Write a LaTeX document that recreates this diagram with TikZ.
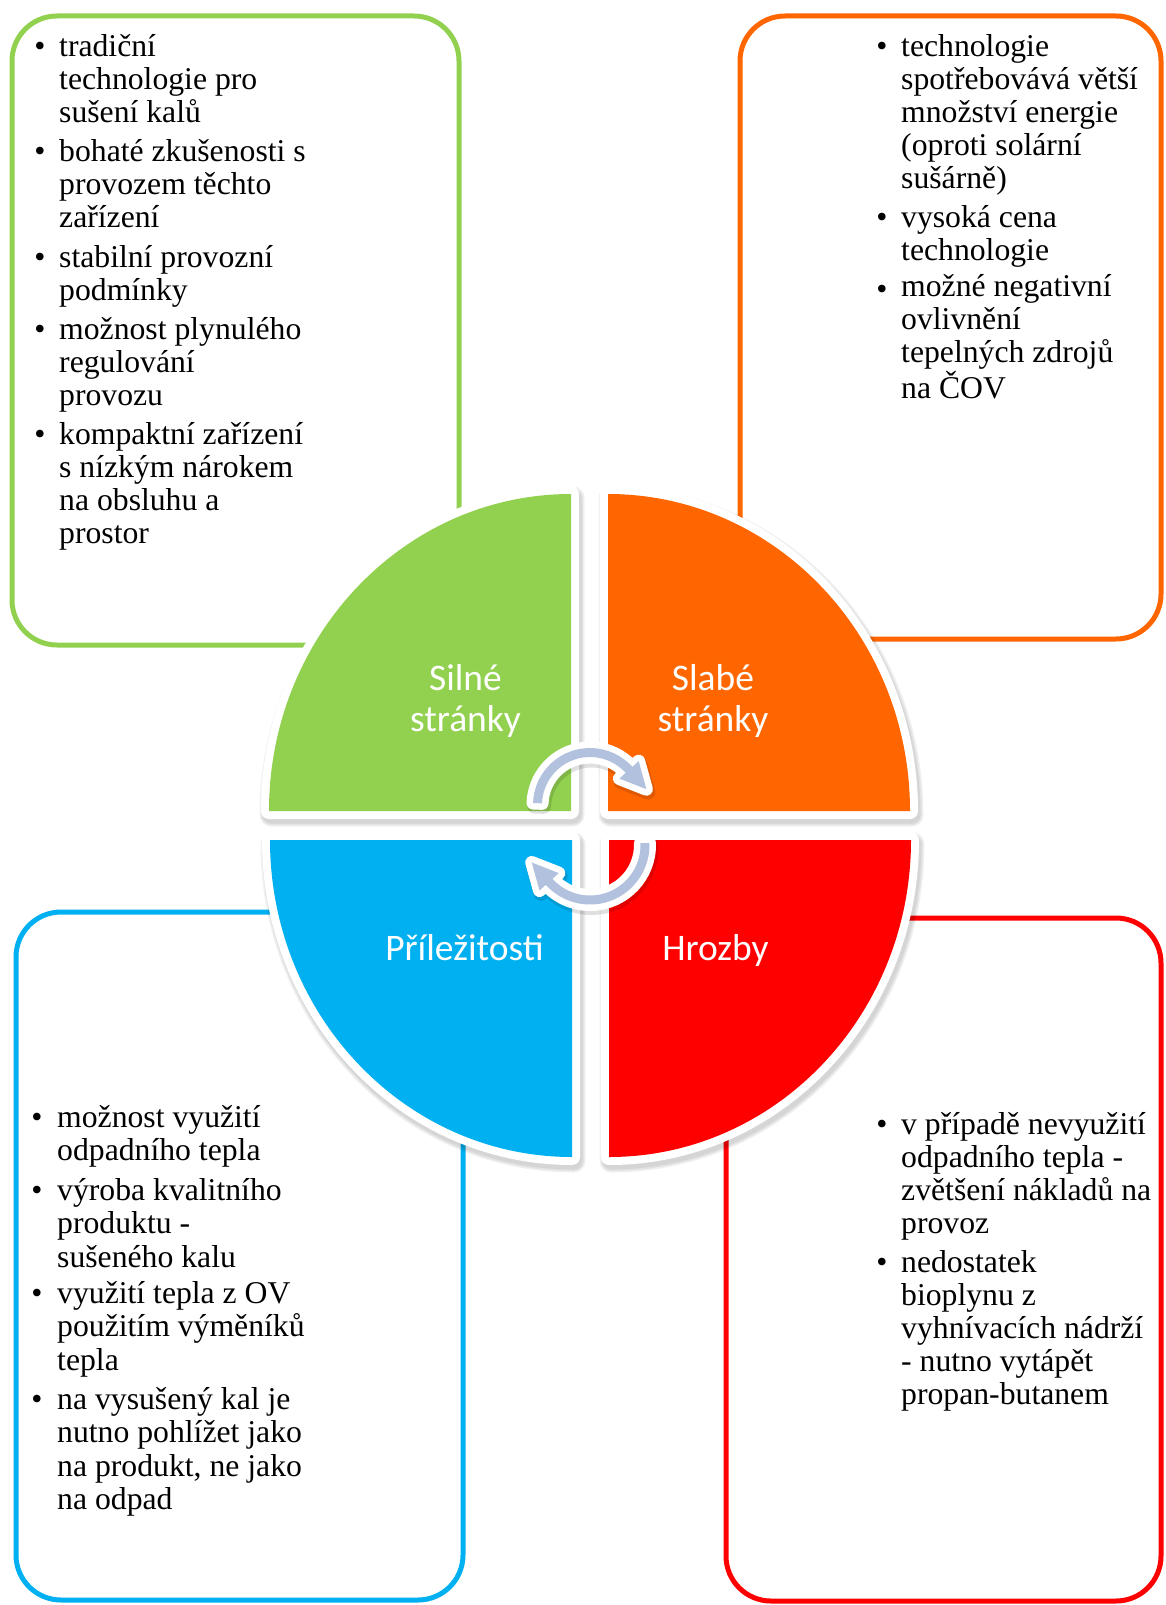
\documentclass[tikz,border=0pt]{standalone}
\usepackage{fontspec}
\setmainfont{Liberation Serif}
\newfontfamily\quadfont{Carlito}
\usetikzlibrary{calc}

\definecolor{swGreen}{RGB}{146,208,80}
\definecolor{swOrange}{RGB}{255,102,0}
\definecolor{swBlue}{RGB}{0,176,240}
\definecolor{swRed}{RGB}{255,0,0}
\definecolor{cycleBlue}{RGB}{178,193,222}

\tikzset{
  listbox/.style={rounded corners=45pt, line width=5pt},
  bulletmark/.style={anchor=base, inner sep=0pt, font=\fontsize{31.7}{33}\selectfont},
  itemtext/.style={anchor=base west, inner sep=0pt, align=left, font=\fontsize{31.7}{33}\selectfont},
  itemtextB/.style={itemtext, font=\fontsize{31.7}{33.5}\selectfont},
  quadlabel/.style={anchor=base, inner sep=0pt, align=center, text=white, font=\quadfont\fontsize{37.5}{41}\selectfont},
  cyclearrow/.style={fill=cycleBlue,
    preaction={draw=black, opacity=0.12, line width=15pt, line join=round, transform canvas={shift={(1.5,3)}}},
    preaction={draw=white, fill=white, line width=13pt, line join=round}},
}

% one bullet point: [style] name, bullet x, text x, first baseline y, line count, text
% (a multi-line node sits on the baseline of its last line)
\newcommand\swotitem[7][itemtext]{%
  \pgfmathsetmacro\swotlast{#5+(#6-1)*\swotskip}%
  \node[bulletmark] (#2b) at (#3,#5) {•};
  \node[#1] (#2) at (#4,\swotlast) {#7};}
\def\swotskip{33}

\begin{document}
\begin{tikzpicture}[x=1pt,y=-1pt]
\useasboundingbox (0,0) rectangle (1165,1605);

% list frames
\draw[listbox, draw=swGreen]  (12,16)   rectangle (459,645);
\draw[listbox, draw=swOrange] (740,16)  rectangle (1161,639);
\draw[listbox, draw=swBlue]   (16,912)  rectangle (463,1600);
\draw[listbox, draw=swRed]    (726,918) rectangle (1161,1601);

% strengths
\swotitem{s1}{40}{59}{57}{3}{tradiční\\technologie pro\\sušení kalů}
\swotitem{s2}{40}{59}{162}{3}{bohaté zkušenosti s\\provozem těchto\\zařízení}
\swotitem{s3}{40}{59}{267}{2}{stabilní provozní\\podmínky}
\swotitem{s4}{40}{59}{339}{3}{možnost plynulého\\regulování\\provozu}
\swotitem{s5}{40}{59}{444}{4}{kompaktní zařízení\\s nízkým nárokem\\na obsluhu a\\prostor}

% weaknesses
\swotitem{w1}{882}{901}{57}{5}{technologie\\spotřebovává větší\\množství energie\\(oproti solární\\sušárně)}
\swotitem{w2}{882}{901}{228}{2}{vysoká cena\\technologie}
\swotitem{w3}{882}{901}{299}{4}{možné negativní\\ovlivnění\\tepelných zdrojů\\na ČOV}

% threats
\swotitem{t1}{882}{901}{1134}{4}{v případě nevyužití\\odpadního tepla -\\zvětšení nákladů na\\provoz}
\swotitem{t2}{882}{901}{1272}{5}{nedostatek\\bioplynu z\\vyhnívacích nádrží\\- nutno vytápět\\propan-butanem}

% opportunities
\def\swotskip{33.5}
\swotitem[itemtextB]{o1}{37}{57}{1127}{2}{možnost využití\\odpadního tepla}
\swotitem[itemtextB]{o2}{37}{57}{1200}{3}{výroba kvalitního\\produktu -\\sušeného kalu}
\swotitem[itemtextB]{o3}{37}{57}{1303}{3}{využití tepla z OV\\použitím výměníků\\tepla}
\swotitem[itemtextB]{o4}{37}{57}{1409}{4}{na vysušený kal je\\nutno pohlížet jako\\na produkt, ne jako\\na odpad}

% quarter discs: soft shadow, white rim, colour fill
\foreach \cx/\cy/\s/\col in {571/811/180/swGreen, 608/811/270/swOrange,
                             609/840/0/swRed, 572/840/90/swBlue} {
  \foreach \w in {23,20,17}
    \path[draw=black, fill=black, opacity=0.06, line width=\w pt, line join=round,
          shift={(2,4)}]
      (\cx,\cy) -- ++(\s:302 and 317)
      arc[start angle=\s, delta angle=90, x radius=302, y radius=317] -- cycle;
  \path[draw=white, fill=white, line width=16pt, line join=round]
    (\cx,\cy) -- ++(\s:302 and 317)
    arc[start angle=\s, delta angle=90, x radius=302, y radius=317] -- cycle;
  \path[fill=\col]
    (\cx,\cy) -- ++(\s:302 and 317)
    arc[start angle=\s, delta angle=90, x radius=302, y radius=317] -- cycle;
}

% quadrant titles (two-line titles sit on their second baseline)
\node[quadlabel] (strengths) at (465.5,731) {Silné\\stránky};
\node[quadlabel] (weaknesses) at (713,731) {Slabé\\stránky};
\node[quadlabel] (opportunities) at (464.5,960) {Příležitosti};
\node[quadlabel] (threats) at (715.5,960) {Hrozby};

% circular arrows in the middle
\coordinate (cu) at (590,805);
\coordinate (cl) at (590,845);
\path[cyclearrow]
  ($(cu)+(182:57)$) arc[start angle=182, end angle=318, radius=57]
  -- ($(cu)+(318:65.5)$) -- ($(cu)+(318:52.5)+(48:26)$) -- ($(cu)+(318:39.5)$)
  -- ($(cu)+(318:48)$) arc[start angle=318, end angle=182, radius=48] -- cycle;
\path[cyclearrow]
  ($(cl)+(-2:59.5)$) arc[start angle=-2, end angle=138, radius=59.5]
  -- ($(cl)+(138:68)$) -- ($(cl)+(138:55)+(228:26)$) -- ($(cl)+(138:42)$)
  -- ($(cl)+(138:50.5)$) arc[start angle=138, end angle=-2, radius=50.5] -- cycle;
\end{tikzpicture}
\end{document}
